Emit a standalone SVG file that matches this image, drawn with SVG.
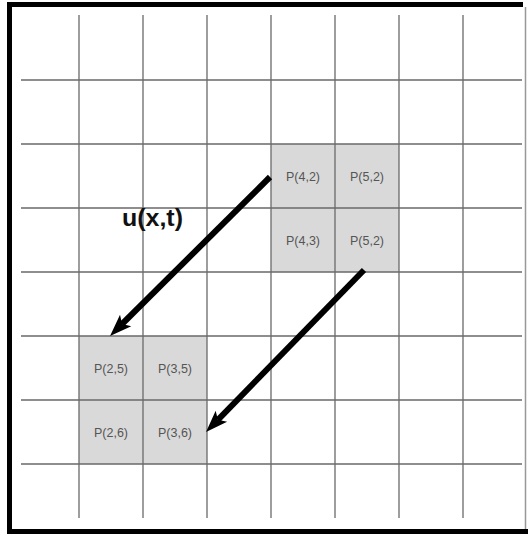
<svg xmlns="http://www.w3.org/2000/svg" width="528" height="534" viewBox="0 0 528 534">
<style>
.grid{stroke:#6a6a6a;stroke-width:1.3;fill:none}
.cell{fill:#d9d9d9}
.lbl{font-family:"Liberation Sans",Arial,sans-serif;font-size:12.5px;fill:#555;text-anchor:middle}
.title{font-family:"Liberation Sans",Arial,sans-serif;font-size:24px;font-weight:bold;fill:#111}
.arrow{stroke:#000;stroke-width:6;fill:none;marker-end:url(#head)}
</style>
<defs>
<marker id="head" viewBox="-1 -9 25 18" refX="5" refY="0" markerWidth="25" markerHeight="18" markerUnits="userSpaceOnUse" orient="auto">
<path d="M0,-8 L22,0 L0,8 L5,0 Z" fill="#000"/>
</marker>
</defs>
<rect x="0" y="0" width="528" height="534" fill="#fff"/>
<g id="cells">
<rect class="cell" x="271" y="144" width="128" height="128"/>
<rect class="cell" x="79" y="336" width="128" height="128"/>
</g>
<g id="grid">
<path class="grid" d="M79,15V518M143,15V518M207,15V518M271,15V518M335,15V518M399,15V518M463,15V518"/>
<path class="grid" d="M21,80H522M21,144H522M21,208H522M21,272H522M21,336H522M21,400H522M21,464H522"/>
</g>
<g id="frame">
<path d="M9.5,534V4.5H523" stroke="#000" stroke-width="5" fill="none"/>
<path d="M7,531.5H528" stroke="#000" stroke-width="5" fill="none"/>
<path d="M525.5,7V529" stroke="#999" stroke-width="1.5" fill="none"/>
</g>
<g id="node-P42"><text class="lbl" x="303" y="181">P(4,2)</text></g>
<g id="node-P52a"><text class="lbl" x="367" y="181">P(5,2)</text></g>
<g id="node-P43"><text class="lbl" x="303" y="245">P(4,3)</text></g>
<g id="node-P52b"><text class="lbl" x="367" y="245">P(5,2)</text></g>
<g id="node-P25"><text class="lbl" x="111" y="373">P(2,5)</text></g>
<g id="node-P35"><text class="lbl" x="175" y="373">P(3,5)</text></g>
<g id="node-P26"><text class="lbl" x="111" y="437">P(2,6)</text></g>
<g id="node-P36"><text class="lbl" x="175" y="437">P(3,6)</text></g>
<g id="label"><text class="title" x="122" y="226" textLength="61" lengthAdjust="spacingAndGlyphs">u(x,t)</text></g>
<g id="connectors">
<line class="arrow" x1="270" y1="177" x2="122.1" y2="324"/>
<line class="arrow" x1="364" y1="270" x2="217.9" y2="419.8"/>
</g>
</svg>
